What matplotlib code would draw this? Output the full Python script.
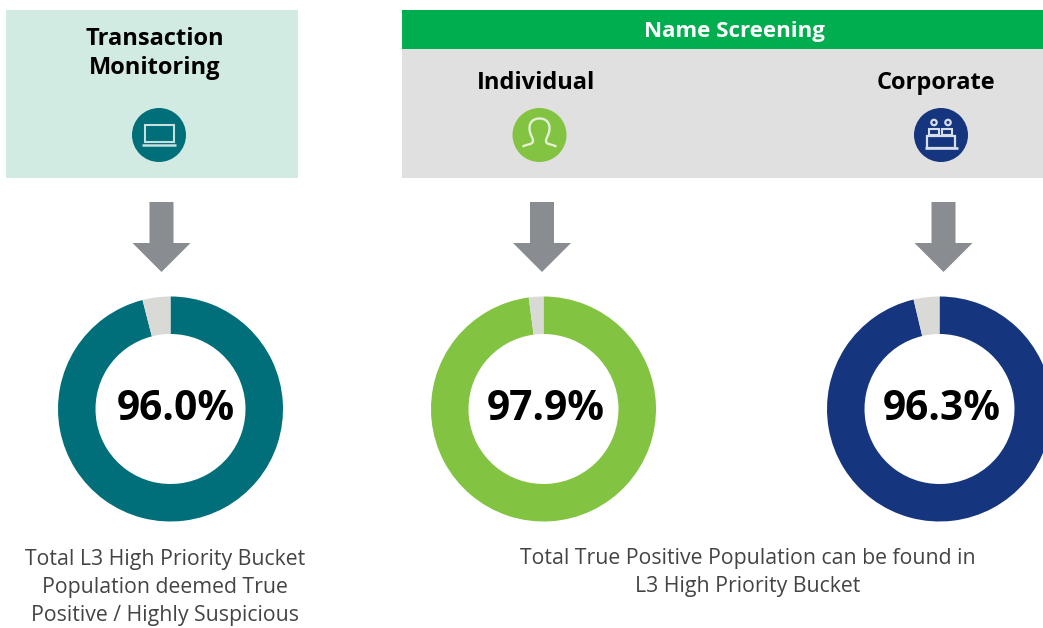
import matplotlib
matplotlib.use("Agg")
import matplotlib.pyplot as plt
from matplotlib.patches import Rectangle, Circle, Polygon
from matplotlib.path import Path
from matplotlib.patches import PathPatch

plt.rcParams['font.family'] = ['Open Sans', 'DejaVu Sans']

# Data
panel_names = ["Transaction Monitoring", "Individual", "Corporate"]
true_positive = [96.0, 97.9, 96.3]
value_labels = ["96.0%", "97.9%", "96.3%"]
caption_left = "Total L3 High Priority Bucket\nPopulation deemed True\nPositive / Highly Suspicious"
caption_right = "Total True Positive Population can be found in\nL3 High Priority Bucket"
group_title = "Name Screening"

TEAL, LIME, NAVY = "#006F7A", "#82C341", "#15367F"
donut_colors = [TEAL, LIME, NAVY]
REST = "#D9D9D6"
W, H = 1043, 628

fig = plt.figure(figsize=(W / 100, H / 100), dpi=100, facecolor="white")
ax = fig.add_axes([0, 0, 1, 1])
ax.set_xlim(0, W)
ax.set_ylim(H, 0)
ax.axis("off")

# Header panels
ax.add_patch(Rectangle((6, 10), 292, 168, fc="#D1EAE2", ec="none"))
ax.add_patch(Rectangle((402, 10), 641, 168, fc="#E0E0E0", ec="none"))
ax.add_patch(Rectangle((402, 10), 641, 39, fc="#00AE4F", ec="none"))

ax.text(155, 53.5, "Transaction\nMonitoring", ha="center", va="center", fontsize=17,
        fontweight="bold", color="black", linespacing=1.26)
ax.text(734.5, 32, group_title, ha="center", va="center", fontsize=16,
        fontweight="bold", color="white")
ax.text(536, 83, panel_names[1], ha="center", va="center", fontsize=17, fontweight="bold", color="black")
ax.text(936, 83, panel_names[2], ha="center", va="center", fontsize=17, fontweight="bold", color="black")

# Icon discs
icon_x = [159, 539.5, 941]
icon_y = 135
for cx, c in zip(icon_x, donut_colors):
    ax.add_patch(Circle((cx, icon_y), 27, fc=c, ec="none"))
ICON = "#C5E0DE"
# laptop
cx = icon_x[0]
ax.add_patch(Rectangle((cx - 14.5, icon_y - 10.5), 29, 17, fc="none", ec=ICON, lw=1.5))
ax.plot([cx - 17, cx + 17], [icon_y + 10, icon_y + 10], color=ICON, lw=1.8, solid_capstyle="butt")
# person
cx = icon_x[1]
y0 = icon_y
verts = [(cx - 17, y0 + 11.5),
         (cx - 12, y0 + 9), (cx - 7, y0 + 10), (cx - 6.5, y0 + 6),
         (cx - 6.5, y0 + 2), (cx - 10, y0 + 0), (cx - 10, y0 - 7),
         (cx - 10, y0 - 13), (cx - 6, y0 - 16.5), (cx, y0 - 16.5),
         (cx + 6, y0 - 16.5), (cx + 10, y0 - 13), (cx + 10, y0 - 7),
         (cx + 10, y0 + 0), (cx + 6.5, y0 + 2), (cx + 6.5, y0 + 6),
         (cx + 7, y0 + 10), (cx + 12, y0 + 9), (cx + 17, y0 + 11.5)]
codes = [Path.MOVETO] + [Path.CURVE4] * 18
ax.add_patch(PathPatch(Path(verts, codes), fc="none", ec="#E4EFD6", lw=1.7))
# desks
cx = icon_x[2]
C2 = "#D8DEE8"
ax.add_patch(Rectangle((cx - 14, icon_y + 1), 27.5, 12, fc="none", ec=C2, lw=1.6))
ax.plot([cx - 16, cx + 17], [icon_y + 12.5, icon_y + 12.5], color=C2, lw=1.9, solid_capstyle="butt")
for bx, cxx in ((cx - 12, cx - 7), (cx + 1, cx + 7)):
    ax.add_patch(Rectangle((bx, icon_y - 6), 10, 6, fc="none", ec=C2, lw=1.5))
    ax.add_patch(Circle((cxx, icon_y - 12.5), 2.7, fc="none", ec=C2, lw=1.6))

# Arrows
for ax_x in (161.5, 542, 943.5):
    ax.add_patch(Polygon([(ax_x - 12, 202), (ax_x + 12, 202), (ax_x + 12, 243), (ax_x + 29, 243),
                          (ax_x, 272), (ax_x - 29, 243), (ax_x - 12, 243)],
                         fc="#898D91", ec="none"))

# Donuts
centers = [170.5, 543.5, 939.5]
cy, R, hole = 409, 112.5, 75
for x, v, c in zip(centers, true_positive, donut_colors):
    dax = fig.add_axes([(x - R) / W, 1 - (cy + R) / H, 2 * R / W, 2 * R / H])
    dax.pie([v, 100 - v], colors=[c, REST], startangle=90, counterclock=False, radius=1,
            wedgeprops=dict(width=1 - hole / R, linewidth=0), frame=True)
    dax.set_xlim(-1, 1)
    dax.set_ylim(-1, 1)
    dax.axis("off")

# Value labels sit above the donut axes
top = fig.add_axes([0, 0, 1, 1], facecolor="none")
top.set_xlim(0, W)
top.set_ylim(H, 0)
top.axis("off")
for lx, lab in zip((175.5, 545.5, 942), value_labels):
    top.text(lx, 410, lab, ha="center", va="center", fontsize=29.3, fontweight="bold", color="black")

# Captions
ax.text(165, 587.5, caption_left, ha="center", va="center", fontsize=15.3,
        color="#444444", linespacing=1.45)
ax.text(748, 572.5, caption_right, ha="center", va="center", fontsize=15.3, color="#444444", linespacing=1.45)

fig.savefig("out.png", dpi=100, facecolor="white")
